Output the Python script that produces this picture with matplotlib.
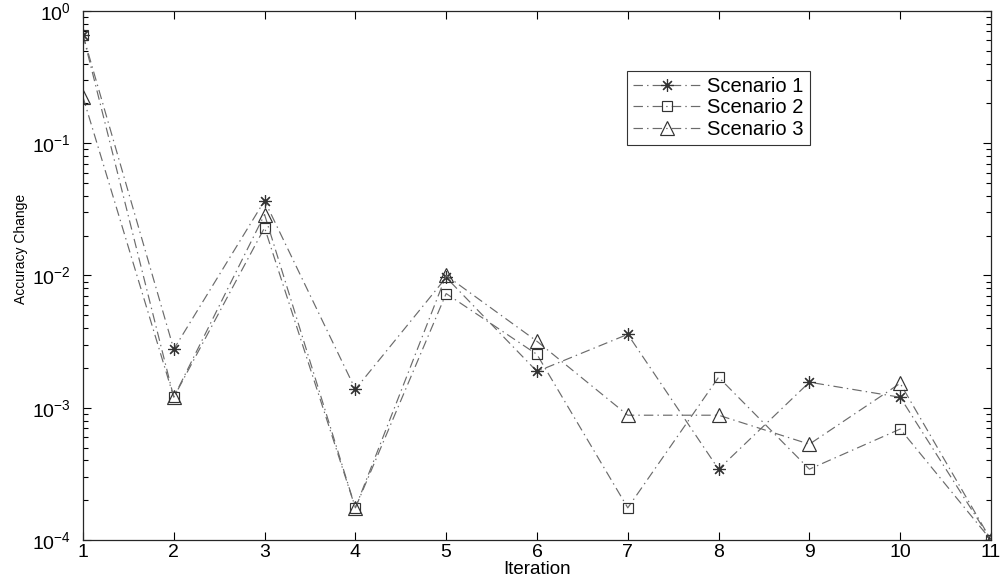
import matplotlib
matplotlib.use('Agg')
import matplotlib.pyplot as plt
from matplotlib.ticker import LogLocator, FixedLocator

plt.rcParams['font.family'] = ['Liberation Sans', 'DejaVu Sans']
plt.rcParams['mathtext.fontset'] = 'custom'
plt.rcParams['mathtext.rm'] = 'Liberation Sans'

iterations = [1, 2, 3, 4, 5, 6, 7, 8, 9, 10, 11]
scenario1 = [0.66, 0.00277, 0.0368, 0.00138, 0.00966, 0.00188, 0.00359, 0.000343, 0.00156, 0.0012, 0.0001]
scenario2 = [0.66, 0.0012, 0.023, 0.000175, 0.0073, 0.00253, 0.000175, 0.0017, 0.000343, 0.00069, 0.0001]
scenario3 = [0.224, 0.0012, 0.0289, 0.000175, 0.01, 0.00318, 0.000878, 0.000878, 0.00053, 0.00153, 0.0001]
labels = ['Scenario 1', 'Scenario 2', 'Scenario 3']

fig = plt.figure(figsize=(10.02, 5.82), dpi=100)
ax = fig.add_axes([0.0828, 0.0722, 0.9062, 0.9089])

dash = (0, (8, 3.5, 1.2, 3.5))
line_kw = dict(color='0.42', linewidth=0.85, linestyle=dash, markeredgecolor='0.2',
               markerfacecolor='none', markeredgewidth=0.85)

ax.plot(iterations, scenario1, marker=(8, 2, 0), markersize=9, label=labels[0], **line_kw)
ax.plot(iterations, scenario2, marker='s', markersize=7, label=labels[1], **line_kw)
ax.plot(iterations, scenario3, marker='^', markersize=10, label=labels[2], **line_kw)

ax.set_yscale('log')
ax.set_xlim(1, 11)
ax.set_ylim(1e-4, 1)
ax.xaxis.set_major_locator(FixedLocator(iterations))
ax.yaxis.set_major_locator(LogLocator(base=10, numticks=10))
ax.yaxis.set_minor_locator(LogLocator(base=10, subs=range(2, 10), numticks=10))

ax.tick_params(which='both', direction='in', top=True, right=True)
ax.tick_params(axis='x', labelsize=14, pad=3)
ax.tick_params(axis='y', labelsize=14, pad=9)
ax.tick_params(which='major', length=6, width=0.8)
ax.tick_params(which='minor', length=3.5, width=0.8)
for s in ax.spines.values():
    s.set_linewidth(0.9)
    s.set_color('0.15')

ax.set_xlabel('Iteration', fontsize=13.5, labelpad=0)
ax.set_ylabel('Accuracy Change', fontsize=10)
ax.yaxis.set_label_coords(-0.061, 0.55)

leg = ax.legend(loc='upper left', bbox_to_anchor=(0.599, 0.887), fontsize=14.5,
                numpoints=1, handlelength=3.4, fancybox=False, framealpha=1,
                edgecolor='0.2', borderpad=0.3, labelspacing=0.12, handletextpad=0.3,
                borderaxespad=0)
leg.get_frame().set_linewidth(0.8)

fig.savefig('out.png', dpi=100)
